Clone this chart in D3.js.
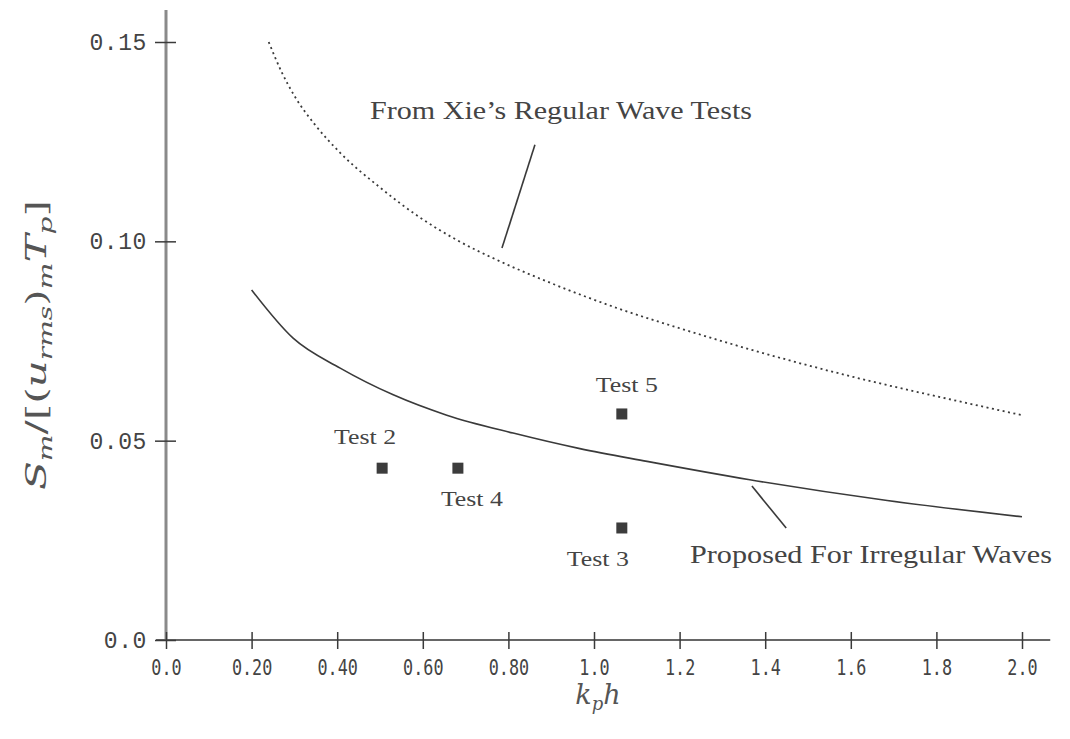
<!DOCTYPE html>
<html>
<head>
<meta charset="utf-8">
<script src="https://cdn.jsdelivr.net/npm/d3@7"></script>
<style>
  html, body { margin: 0; padding: 0; background: #fff; }
  svg { display: block; }
</style>
</head>
<body>
<svg id="chart" width="1070" height="739"></svg>
<script>
// ---- Data ----
const xieX = [0.24, 0.27, 0.30, 0.35, 0.407, 0.50, 0.593, 0.68, 0.78, 0.90, 1.061, 1.20, 1.371, 1.605, 1.839, 2.0];
const xieY = [0.150, 0.1425, 0.1365, 0.1290, 0.1222, 0.1135, 0.1060, 0.1003, 0.0950, 0.0895, 0.0830, 0.0782, 0.0727, 0.0660, 0.0602, 0.0564];

const propX = [0.20, 0.297, 0.407, 0.531, 0.656, 0.811, 0.967, 1.124, 1.364, 1.685, 2.0];
const propY = [0.0878, 0.0757, 0.0682, 0.0615, 0.0564, 0.0519, 0.0480, 0.0448, 0.0402, 0.0350, 0.0309];

const testNames = ["Test 2", "Test 4", "Test 5", "Test 3"];
const testX = [0.505, 0.682, 1.065, 1.065];
const testY = [0.0431, 0.0431, 0.0567, 0.0281];

const xTickValues = [0.0, 0.2, 0.4, 0.6, 0.8, 1.0, 1.2, 1.4, 1.6, 1.8, 2.0];
const xTickLabels = ["0.0", "0.20", "0.40", "0.60", "0.80", "1.0", "1.2", "1.4", "1.6", "1.8", "2.0"];
const yTickValues = [0.0, 0.05, 0.10, 0.15];
const yTickLabels = ["0.0", "0.05", "0.10", "0.15"];

// ---- Layout ----
const svg = d3.select("#chart");
const x = d3.scaleLinear().domain([0, 2.0]).range([166, 1022]);
const y = d3.scaleLinear().domain([0, 0.15]).range([640, 42]);

const ink = "#3a3a3a";
const textInk = "#444";
const serif = "'Liberation Serif', 'DejaVu Serif', serif";
const mathSerif = "'DejaVu Serif', 'Liberation Serif', serif";

// Axes lines
svg.append("line")
  .attr("x1", x(0)).attr("x2", x(0))
  .attr("y1", y(0)).attr("y2", y(0.158))
  .attr("stroke", "#8a8a8a").attr("stroke-width", 3);
svg.append("line")
  .attr("x1", x(0) - 10).attr("x2", x(2.066))
  .attr("y1", y(0)).attr("y2", y(0))
  .attr("stroke", "#666").attr("stroke-width", 2);

// X axis
const xAxis = d3.axisBottom(x)
  .tickValues(xTickValues)
  .tickFormat((d, i) => xTickLabels[i])
  .tickSizeInner(0).tickSizeOuter(0).tickPadding(20);
const gx = svg.append("g").attr("transform", `translate(0,${y(0)})`).call(xAxis);
gx.select(".domain").remove();
gx.selectAll(".tick line").attr("y1", -8).attr("y2", 9).attr("stroke", ink).attr("stroke-width", 1.5);
gx.selectAll(".tick text")
  .attr("font-family", "'DejaVu Sans Mono', monospace")
  .attr("font-size", 21).attr("fill", textInk)
  .attr("transform", "scale(0.8,1)");

// Y axis
const yAxis = d3.axisLeft(y)
  .tickValues(yTickValues)
  .tickFormat((d, i) => yTickLabels[i])
  .tickSizeInner(0).tickSizeOuter(0).tickPadding(19);
const gy = svg.append("g").attr("transform", `translate(${x(0)},0)`).call(yAxis);
gy.select(".domain").remove();
gy.selectAll(".tick line").attr("x1", -11).attr("x2", 10).attr("stroke", ink).attr("stroke-width", 1.5);
gy.selectAll(".tick text")
  .attr("font-family", "'Liberation Mono', 'Courier New', monospace")
  .attr("font-size", 23).attr("letter-spacing", 0.6).attr("fill", textInk);

// Curves
const line = d3.line().x(d => x(d[0])).y(d => y(d[1])).curve(d3.curveMonotoneX);
svg.append("path")
  .datum(xieX.map((v, i) => [v, xieY[i]]))
  .attr("d", line).attr("fill", "none")
  .attr("stroke", ink).attr("stroke-width", 1.8).attr("stroke-dasharray", "2,3.5");
svg.append("path")
  .datum(propX.map((v, i) => [v, propY[i]]))
  .attr("d", line).attr("fill", "none")
  .attr("stroke", ink).attr("stroke-width", 1.6);

// Test markers
const ms = 11;
svg.selectAll("rect.test").data(testX.map((v, i) => [v, testY[i]]))
  .enter().append("rect").attr("class", "test")
  .attr("x", d => x(d[0]) - ms / 2).attr("y", d => y(d[1]) - ms / 2)
  .attr("width", ms).attr("height", ms)
  .attr("fill", "#3c3c3c");

// Test labels (offsets relative to markers)
const labelDx = [-17, 14, 5, -24];
const labelDy = [-24, 38, -22, 38];
svg.selectAll("text.test").data(testNames)
  .enter().append("text").attr("class", "test")
  .attr("x", (d, i) => x(testX[i]) + labelDx[i] - 31)
  .attr("y", (d, i) => y(testY[i]) + labelDy[i])
  .attr("font-family", serif)
  .attr("font-size", 21).attr("fill", textInk)
  .attr("textLength", 62).attr("lengthAdjust", "spacingAndGlyphs")
  .text(d => d);

// Annotations
svg.append("text")
  .attr("x", 370).attr("y", 119)
  .attr("font-family", serif).attr("font-size", 25).attr("fill", textInk)
  .attr("textLength", 382).attr("lengthAdjust", "spacingAndGlyphs")
  .text("From Xie\u2019s Regular Wave Tests");
svg.append("line")
  .attr("x1", x(0.862)).attr("y1", y(0.1242))
  .attr("x2", x(0.785)).attr("y2", y(0.0983))
  .attr("stroke", ink).attr("stroke-width", 1.6);

svg.append("text")
  .attr("x", 690).attr("y", 563)
  .attr("font-family", serif).attr("font-size", 25).attr("fill", textInk)
  .attr("textLength", 362).attr("lengthAdjust", "spacingAndGlyphs")
  .text("Proposed For Irregular Waves");
svg.append("line")
  .attr("x1", x(1.369)).attr("y1", y(0.0386))
  .attr("x2", x(1.449)).attr("y2", y(0.0281))
  .attr("stroke", ink).attr("stroke-width", 1.6);

// Axis titles
const xt = svg.append("text")
  .attr("x", 598).attr("y", 704).attr("text-anchor", "middle")
  .attr("font-family", mathSerif).attr("font-size", 27).attr("fill", "#555");
xt.append("tspan").attr("font-style", "italic").text("k");
xt.append("tspan").attr("font-style", "italic").attr("font-size", 18).attr("dy", 6).text("p");
xt.append("tspan").attr("font-style", "italic").attr("dy", -6).text("h");

const yt = svg.append("text")
  .attr("transform", "translate(46,490) rotate(-90)")
  .attr("font-family", mathSerif).attr("font-size", 27).attr("fill", "#555")
  .attr("textLength", 290).attr("lengthAdjust", "spacingAndGlyphs");
yt.append("tspan").attr("font-style", "italic").text("S");
yt.append("tspan").attr("font-style", "italic").attr("font-size", 18).attr("dy", 6).text("m");
yt.append("tspan").attr("dy", -6).text("/[(");
yt.append("tspan").attr("font-style", "italic").text("u");
yt.append("tspan").attr("font-style", "italic").attr("font-size", 18).attr("dy", 6).text("rms");
yt.append("tspan").attr("dy", -6).text(")");
yt.append("tspan").attr("font-style", "italic").attr("font-size", 18).attr("dy", 6).text("m");
yt.append("tspan").attr("font-style", "italic").attr("dy", -6).text("T");
yt.append("tspan").attr("font-style", "italic").attr("font-size", 18).attr("dy", 6).text("p");
yt.append("tspan").attr("dy", -6).text("]");
</script>
</body>
</html>
